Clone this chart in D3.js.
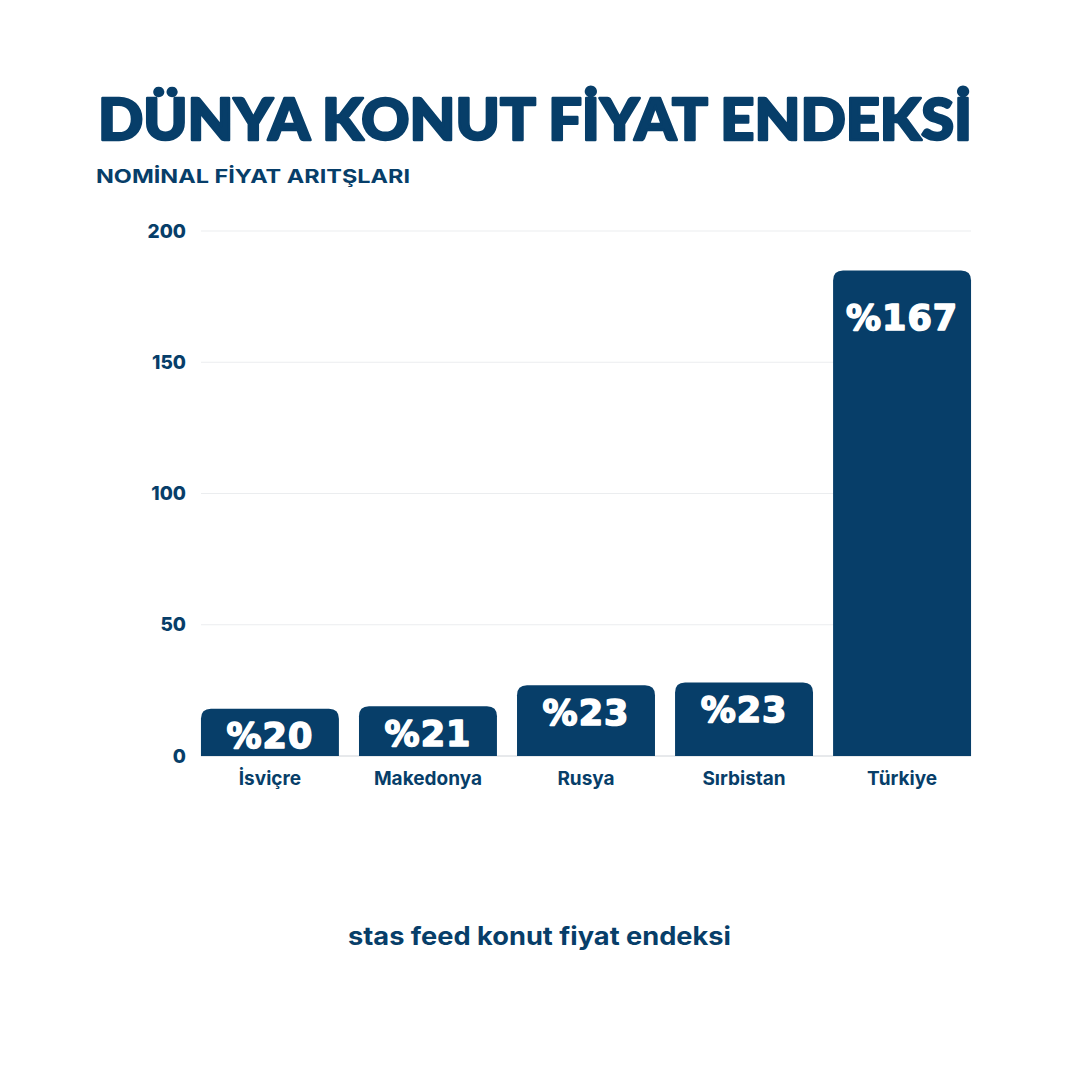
<!DOCTYPE html>
<html>
<head>
<meta charset="utf-8">
<script src="https://cdn.jsdelivr.net/npm/d3@7"></script>
<style>
  body { margin: 0; background: #fff; }
  svg { display: block; }
</style>
</head>
<body>
<svg id="chart"></svg>
<script>
// chart data
const countries = ["İsviçre", "Makedonya", "Rusya", "Sırbistan", "Türkiye"];
const barValues = [18, 19, 27, 28, 185];
const labelValues = [20, 21, 23, 23, 167];
const yTicks = [0, 50, 100, 150, 200];

const title = "DÜNYA KONUT FİYAT ENDEKSİ";
const subtitle = "NOMİNAL FİYAT ARITŞLARI";
const footer = "stas feed konut fiyat endeksi";

const W = 1080, H = 1080;
const navy = "#073e69";

const svg = d3.select("#chart").attr("width", W).attr("height", H);

// scales
const x = d3.scaleBand()
	.domain(countries)
	.range([191, 981])
	.paddingInner(0.127)
	.paddingOuter(0.063);

const y = d3.scaleLinear()
	.domain([0, 200])
	.range([756, 231]);

const data = countries.map((c, i) => ({ name: c, value: barValues[i], label: labelValues[i] }));

// titles
svg.append("text")
	.attr("x", 98).attr("y", 140)
	.attr("textLength", 874).attr("lengthAdjust", "spacingAndGlyphs")
	.attr("font-family", "Lato").attr("font-weight", 900)
	.attr("font-size", 58).attr("fill", navy)
	.attr("stroke", navy).attr("stroke-width", 2.5).attr("stroke-linejoin", "round")
	.text(title);

svg.append("text")
	.attr("x", 96).attr("y", 183)
	.attr("textLength", 314).attr("lengthAdjust", "spacingAndGlyphs")
	.attr("font-family", "Inter").attr("font-weight", 700)
	.attr("font-size", 19).attr("fill", navy)
	.text(subtitle);

// grid
const gridLeft = x(countries[0]);
const gridRight = x(countries[countries.length - 1]) + x.bandwidth();

svg.append("g")
	.selectAll("line")
	.data(yTicks)
	.join("line")
	.attr("x1", gridLeft).attr("x2", gridRight)
	.attr("y1", d => y(d)).attr("y2", d => y(d))
	.attr("stroke", d => d === 0 ? "#cfd3d8" : "#ebedef")
	.attr("stroke-width", 1);

// y axis labels
const yAxis = svg.append("g")
	.attr("transform", `translate(186,0)`)
	.call(d3.axisLeft(y).tickValues(yTicks).tickSize(0).tickPadding(0));
yAxis.select(".domain").remove();
yAxis.selectAll("text")
	.attr("font-family", "Inter").attr("font-weight", 800)
	.attr("font-size", 19).attr("fill", navy);

// bars with rounded top corners
const r = 10;
function barPath(d) {
	const x0 = x(d.name), x1 = x0 + x.bandwidth();
	const y0 = y(d.value), y1 = y(0);
	return `M${x0},${y1} L${x0},${y0 + r} Q${x0},${y0} ${x0 + r},${y0} L${x1 - r},${y0} Q${x1},${y0} ${x1},${y0 + r} L${x1},${y1} Z`;
}

svg.append("g")
	.selectAll("path")
	.data(data)
	.join("path")
	.attr("d", barPath)
	.attr("fill", navy);

// value labels
svg.append("g")
	.selectAll("text")
	.data(data)
	.join("text")
	.attr("x", d => x(d.name) + x.bandwidth() / 2)
	.attr("y", d => Math.max(y(d.label), y(d.value) + 27))
	.attr("dy", "0.36em")
	.attr("text-anchor", "middle")
	.attr("font-family", "DejaVu Sans").attr("font-weight", 700)
	.attr("font-size", 35).attr("fill", "#fff")
	.attr("stroke", "#fff").attr("stroke-width", 1.6).attr("stroke-linejoin", "round")
	.attr("letter-spacing", 1)
	.text(d => "%" + d.label);

// x axis labels
svg.append("g")
	.selectAll("text")
	.data(data)
	.join("text")
	.attr("x", d => x(d.name) + x.bandwidth() / 2)
	.attr("y", 785)
	.attr("text-anchor", "middle")
	.attr("font-family", "Inter").attr("font-weight", 700)
	.attr("font-size", 19).attr("fill", navy)
	.text(d => d.name);

// footer
svg.append("text")
	.attr("x", 348).attr("y", 945)
	.attr("textLength", 383).attr("lengthAdjust", "spacingAndGlyphs")
	.attr("font-family", "Inter").attr("font-weight", 700)
	.attr("font-size", 25).attr("fill", navy)
	.text(footer);
</script>
</body>
</html>
